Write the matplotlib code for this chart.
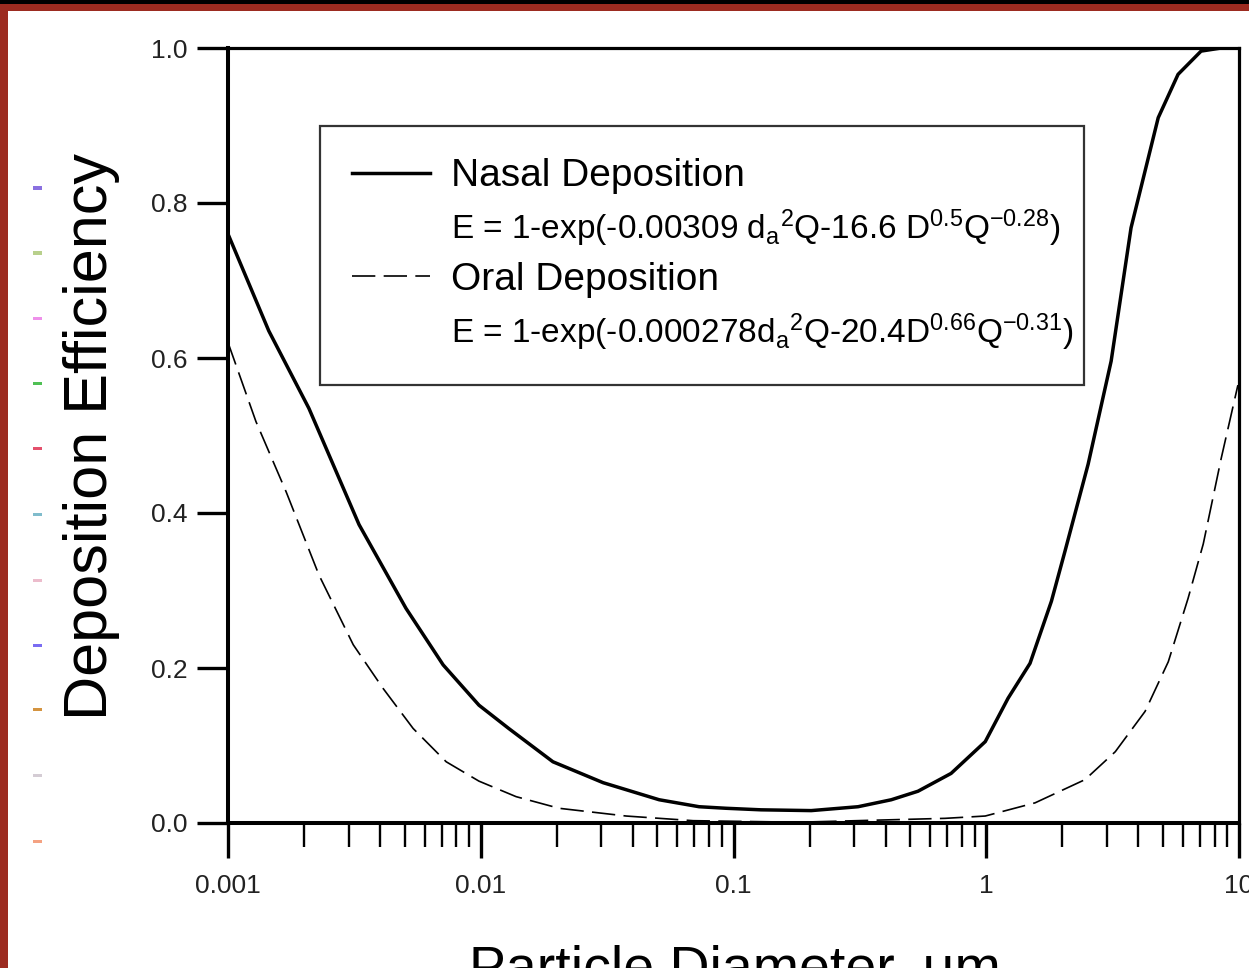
import numpy as np
import matplotlib
matplotlib.use("Agg")
import matplotlib.pyplot as plt
from matplotlib.lines import Line2D
from matplotlib.patches import Rectangle
from matplotlib.ticker import FixedLocator, FixedFormatter, LogLocator, NullFormatter

plt.rcParams['font.family'] = ['Liberation Sans', 'DejaVu Sans']
plt.rcParams['mathtext.fontset'] = 'custom'
plt.rcParams['mathtext.rm'] = 'Liberation Sans'
plt.rcParams['mathtext.it'] = 'Liberation Sans'
plt.rcParams['mathtext.default'] = 'regular'

# ---------------- data ----------------
nasal_d = [0.001, 0.00145, 0.00209, 0.0033, 0.00506, 0.0071, 0.00984, 0.0129,
           0.0193, 0.0305, 0.0508, 0.0731, 0.0935, 0.1285, 0.203, 0.311, 0.421,
           0.537, 0.726, 0.991, 1.22, 1.49, 1.81, 2.05, 2.53, 3.12, 3.74, 4.79,
           5.74, 7.08, 8.51, 10.0]
nasal_e = [0.76, 0.635, 0.535, 0.385, 0.277, 0.204, 0.152, 0.122,
           0.079, 0.052, 0.030, 0.021, 0.019, 0.017, 0.016, 0.021, 0.030,
           0.041, 0.064, 0.105, 0.161, 0.206, 0.286, 0.351, 0.463, 0.596, 0.768, 0.910,
           0.966, 0.996, 1.0, 1.0]

oral_d = [0.001, 0.00129, 0.0017, 0.00229, 0.00313, 0.0041, 0.0054, 0.0073,
          0.00984, 0.0138, 0.0204, 0.0376, 0.0692, 0.18, 0.687, 0.991, 1.56,
          2.46, 3.24, 4.25, 5.25, 6.29, 7.22, 8.51, 9.9]
oral_e = [0.62, 0.518, 0.427, 0.320, 0.230, 0.174, 0.122, 0.079,
          0.054, 0.034, 0.019, 0.009, 0.003, 0.001, 0.006, 0.009, 0.026,
          0.056, 0.092, 0.144, 0.208, 0.290, 0.360, 0.471, 0.565]

x_ticks = [0.001, 0.01, 0.1, 1, 10]
x_tick_labels = ['0.001', '0.01', '0.1', '1', '10']
y_ticks = [0.0, 0.2, 0.4, 0.6, 0.8, 1.0]
y_tick_labels = ['0.0', '0.2', '0.4', '0.6', '0.8', '1.0']

legend_heads = ['Nasal Deposition', 'Oral Deposition']
legend_eqs = [r'E = 1-exp(-0.00309 d$_a{}^2$Q-16.6 D$^{0.5}$Q$^{-0.28}$)',
              r'E = 1-exp(-0.000278d$_a{}^2$Q-20.4D$^{0.66}$Q$^{-0.31}$)']
x_label = 'Particle Diameter, \u03bcm'
y_label = 'Deposition Efficiency'

# scan artefacts on the left margin
artefact_colors = ['#8a70e0', '#b8d08c', '#ee90ea', '#4fc054', '#e4506c',
                   '#80bccc', '#ecbccc', '#7a6cf2', '#d49440', '#d4ccd4', '#f4a282']
artefact_y = [188, 253, 318, 383, 448, 514, 580, 645, 709, 775, 841]

# ---------------- figure ----------------
W, H = 1249, 968
fig = plt.figure(figsize=(W / 100, H / 100), dpi=100)
fig.patch.set_facecolor('white')

ax = fig.add_axes([228 / W, 1 - 823 / H, (1239 - 228) / W, (823 - 48) / H])

ax.plot(nasal_d, nasal_e, color='black', lw=2.5, solid_joinstyle='round')
ax.plot(oral_d, oral_e, color='black', lw=1.2, linestyle=(0, (14, 5)))

ax.set_xscale('log')
ax.set_xlim(1e-3, 10)
ax.set_ylim(0, 1)

ax.xaxis.set_major_locator(FixedLocator(x_ticks))
ax.xaxis.set_major_formatter(FixedFormatter(x_tick_labels))
ax.xaxis.set_minor_locator(LogLocator(base=10, subs=np.arange(2, 10)))
ax.xaxis.set_minor_formatter(NullFormatter())
ax.yaxis.set_major_locator(FixedLocator(y_ticks))
ax.yaxis.set_major_formatter(FixedFormatter(y_tick_labels))

ax.tick_params(axis='x', which='major', direction='out', length=25, width=2.4,
               pad=12, labelsize=19, labelcolor='#222222')
ax.tick_params(axis='x', which='minor', direction='out', length=17, width=1.7)
ax.tick_params(axis='y', which='major', direction='out', length=22, width=2.4,
               pad=7, labelsize=19, labelcolor='#222222')
ax.tick_params(top=False, right=False, which='both')

for side, lw in [('left', 2.9), ('bottom', 2.9), ('top', 2.3), ('right', 2.3)]:
    ax.spines[side].set_linewidth(lw)
    ax.spines[side].set_color('black')

# legend: heading rows with line samples, equation rows without
handles = [Line2D([], [], color='black', lw=2.5),
           Line2D([], [], color='none'),
           Line2D([], [], color='black', lw=1.2, linestyle=(0, (14, 5))),
           Line2D([], [], color='none')]
labels = [legend_heads[0], legend_eqs[0], legend_heads[1], legend_eqs[1]]
leg = ax.legend(handles, labels, loc='upper left',
                bbox_to_anchor=(0.091, 0.0, 0.756, 0.899), mode='expand',
                prop={'size': 28}, handlelength=2.0, handletextpad=0.55,
                labelspacing=0.34, borderpad=0.82, borderaxespad=0,
                fancybox=False, framealpha=1, edgecolor='#333333')
leg.get_frame().set_linewidth(1.6)
for i, t in enumerate(leg.get_texts()):
    t.set_fontsize(28 if i % 2 == 0 else 24)

fig.text(92 / W, 1 - 436 / H, y_label, rotation=90, ha='center', va='center',
         fontsize=44)
fig.text(735 / W, 1 - 985 / H, x_label, ha='center', va='baseline', fontsize=40)

# page border of the scan
fig.patches.append(Rectangle((0, 1 - 4 / H), 1, 4 / H, transform=fig.transFigure,
                             facecolor='black', edgecolor='none', zorder=10))
fig.patches.append(Rectangle((0, 1 - 11 / H), 1, 7 / H, transform=fig.transFigure,
                             facecolor='#9c2b20', edgecolor='none', zorder=10))
fig.patches.append(Rectangle((0, 0), 8 / W, 1 - 4 / H, transform=fig.transFigure,
                             facecolor='#9c2b20', edgecolor='none', zorder=10))
for c, yy in zip(artefact_colors, artefact_y):
    fig.patches.append(Rectangle((33 / W, 1 - (yy + 1.5) / H), 9 / W, 3 / H,
                                 transform=fig.transFigure, facecolor=c,
                                 edgecolor='none'))

fig.savefig('out.png', dpi=100)
